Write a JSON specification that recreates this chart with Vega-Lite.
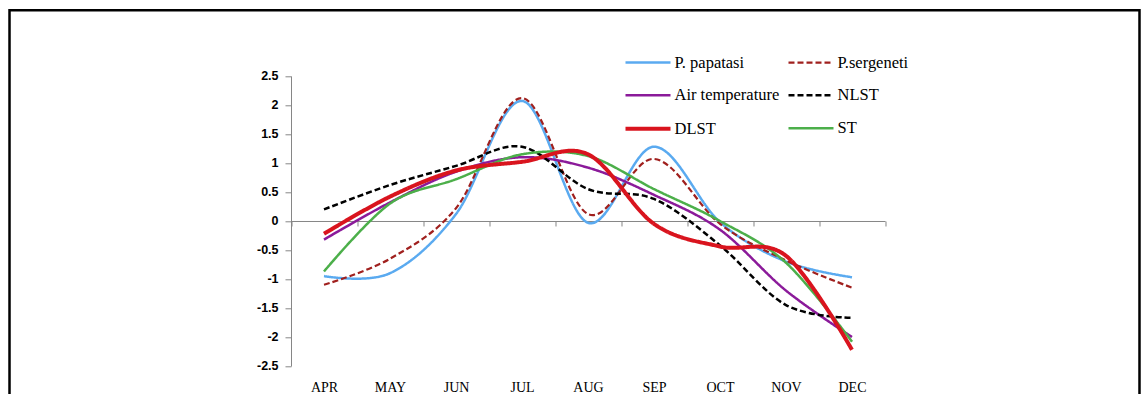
{
  "$schema": "https://vega.github.io/schema/vega-lite/v6.json",
  "autosize": {"type": "none"},
  "padding": {"left": 9.5, "top": 10.3, "right": 1.5, "bottom": 0},
  "width": 1130,
  "height": 400,
  "background": "white",
  "config": {
    "view": {"stroke": "black", "strokeWidth": 2.5},
    "legend": {
      "orient": "none",
      "direction": "horizontal",
      "legendX": 614,
      "legendY": 28,
      "columns": 2,
      "columnPadding": 4,
      "rowPadding": -16,
      "symbolType": "stroke",
      "symbolSize": 2025,
      "labelFont": "Liberation Serif",
      "labelFontSize": 16.5,
      "labelColor": "black",
      "labelOffset": 2,
      "labelLimit": 300
    }
  },
  "data": {
    "values": [
      {"series": "P. papatasi", "month": "APR", "v": -0.95},
      {"series": "P. papatasi", "month": "MAY", "v": -0.9},
      {"series": "P. papatasi", "month": "JUN", "v": 0.12},
      {"series": "P. papatasi", "month": "JUL", "v": 2.07},
      {"series": "P. papatasi", "month": "AUG", "v": -0.03},
      {"series": "P. papatasi", "month": "SEP", "v": 1.28},
      {"series": "P. papatasi", "month": "OCT", "v": -0.02},
      {"series": "P. papatasi", "month": "NOV", "v": -0.7},
      {"series": "P. papatasi", "month": "DEC", "v": -0.97},
      {"series": "P.sergeneti", "month": "APR", "v": -1.1},
      {"series": "P.sergeneti", "month": "MAY", "v": -0.65},
      {"series": "P.sergeneti", "month": "JUN", "v": 0.22},
      {"series": "P.sergeneti", "month": "JUL", "v": 2.12},
      {"series": "P.sergeneti", "month": "AUG", "v": 0.12},
      {"series": "P.sergeneti", "month": "SEP", "v": 1.07},
      {"series": "P.sergeneti", "month": "OCT", "v": -0.05},
      {"series": "P.sergeneti", "month": "NOV", "v": -0.68},
      {"series": "P.sergeneti", "month": "DEC", "v": -1.15},
      {"series": "Air temperature", "month": "APR", "v": -0.32},
      {"series": "Air temperature", "month": "MAY", "v": 0.32},
      {"series": "Air temperature", "month": "JUN", "v": 0.85},
      {"series": "Air temperature", "month": "JUL", "v": 1.1},
      {"series": "Air temperature", "month": "AUG", "v": 0.92},
      {"series": "Air temperature", "month": "SEP", "v": 0.45},
      {"series": "Air temperature", "month": "OCT", "v": -0.15},
      {"series": "Air temperature", "month": "NOV", "v": -1.2},
      {"series": "Air temperature", "month": "DEC", "v": -2.0},
      {"series": "NLST", "month": "APR", "v": 0.2},
      {"series": "NLST", "month": "MAY", "v": 0.62},
      {"series": "NLST", "month": "JUN", "v": 0.95},
      {"series": "NLST", "month": "JUL", "v": 1.28},
      {"series": "NLST", "month": "AUG", "v": 0.55},
      {"series": "NLST", "month": "SEP", "v": 0.38},
      {"series": "NLST", "month": "OCT", "v": -0.42},
      {"series": "NLST", "month": "NOV", "v": -1.45},
      {"series": "NLST", "month": "DEC", "v": -1.67},
      {"series": "ST", "month": "APR", "v": -0.87},
      {"series": "ST", "month": "MAY", "v": 0.3},
      {"series": "ST", "month": "JUN", "v": 0.72},
      {"series": "ST", "month": "JUL", "v": 1.15},
      {"series": "ST", "month": "AUG", "v": 1.12},
      {"series": "ST", "month": "SEP", "v": 0.55},
      {"series": "ST", "month": "OCT", "v": 0.0},
      {"series": "ST", "month": "NOV", "v": -0.72},
      {"series": "ST", "month": "DEC", "v": -2.08},
      {"series": "DLST", "month": "APR", "v": -0.22},
      {"series": "DLST", "month": "MAY", "v": 0.42},
      {"series": "DLST", "month": "JUN", "v": 0.87},
      {"series": "DLST", "month": "JUL", "v": 1.02},
      {"series": "DLST", "month": "AUG", "v": 1.15},
      {"series": "DLST", "month": "SEP", "v": -0.05},
      {"series": "DLST", "month": "OCT", "v": -0.44},
      {"series": "DLST", "month": "NOV", "v": -0.6},
      {"series": "DLST", "month": "DEC", "v": -2.22}
    ]
  },
  "mark": {"type": "line", "interpolate": "cardinal", "tension": 0},
  "encoding": {
    "x": {
      "field": "month",
      "type": "ordinal",
      "sort": ["APR", "MAY", "JUN", "JUL", "AUG", "SEP", "OCT", "NOV", "DEC"],
      "bandPosition": 0.5,
      "scale": {"type": "band", "range": [281.5, 875.5], "paddingInner": 0, "paddingOuter": 0},
      "axis": {
        "title": null,
        "orient": "bottom",
        "offset": -189.3,
        "tickBand": "extent",
        "domainColor": "#868686",
        "domainWidth": 1,
        "tickColor": "#868686",
        "tickSize": 5,
        "labelPadding": 155,
        "labelAngle": 0,
        "labelFont": "Liberation Serif",
        "labelFontSize": 14,
        "labelColor": "black",
        "grid": false
      }
    },
    "y": {
      "field": "v",
      "type": "quantitative",
      "scale": {"domain": [-2.5, 2.5], "range": [355.7, 65.7], "nice": false, "zero": false},
      "axis": {
        "title": null,
        "orient": "left",
        "offset": -281.5,
        "values": [-2.5, -2, -1.5, -1, -0.5, 0, 0.5, 1, 1.5, 2, 2.5],
        "labelExpr": "'' + datum.value",
        "domainColor": "#868686",
        "tickColor": "#868686",
        "tickSize": 6,
        "labelPadding": 7,
        "labelFont": "Liberation Sans",
        "labelFontWeight": "bold",
        "labelFontSize": 12.5,
        "labelColor": "black",
        "grid": false
      }
    },
    "color": {
      "field": "series",
      "type": "nominal",
      "scale": {
        "domain": ["P. papatasi", "P.sergeneti", "Air temperature", "NLST", "DLST", "ST"],
        "range": ["#5aaaf0", "#a0201e", "#8b1a9a", "#000000", "#d9141e", "#4caf4a"]
      },
      "legend": {"title": null}
    },
    "strokeDash": {
      "field": "series",
      "type": "nominal",
      "scale": {
        "domain": ["P. papatasi", "P.sergeneti", "Air temperature", "NLST", "DLST", "ST"],
        "range": [[1, 0], [6, 3], [1, 0], [6, 3], [1, 0], [1, 0]]
      },
      "legend": {"title": null}
    },
    "strokeWidth": {
      "field": "series",
      "type": "ordinal",
      "scale": {
        "type": "ordinal",
        "domain": ["P. papatasi", "P.sergeneti", "Air temperature", "NLST", "DLST", "ST"],
        "range": [2.5, 2.2, 2.5, 2.5, 4, 2.5]
      },
      "legend": {"title": null}
    }
  }
}
